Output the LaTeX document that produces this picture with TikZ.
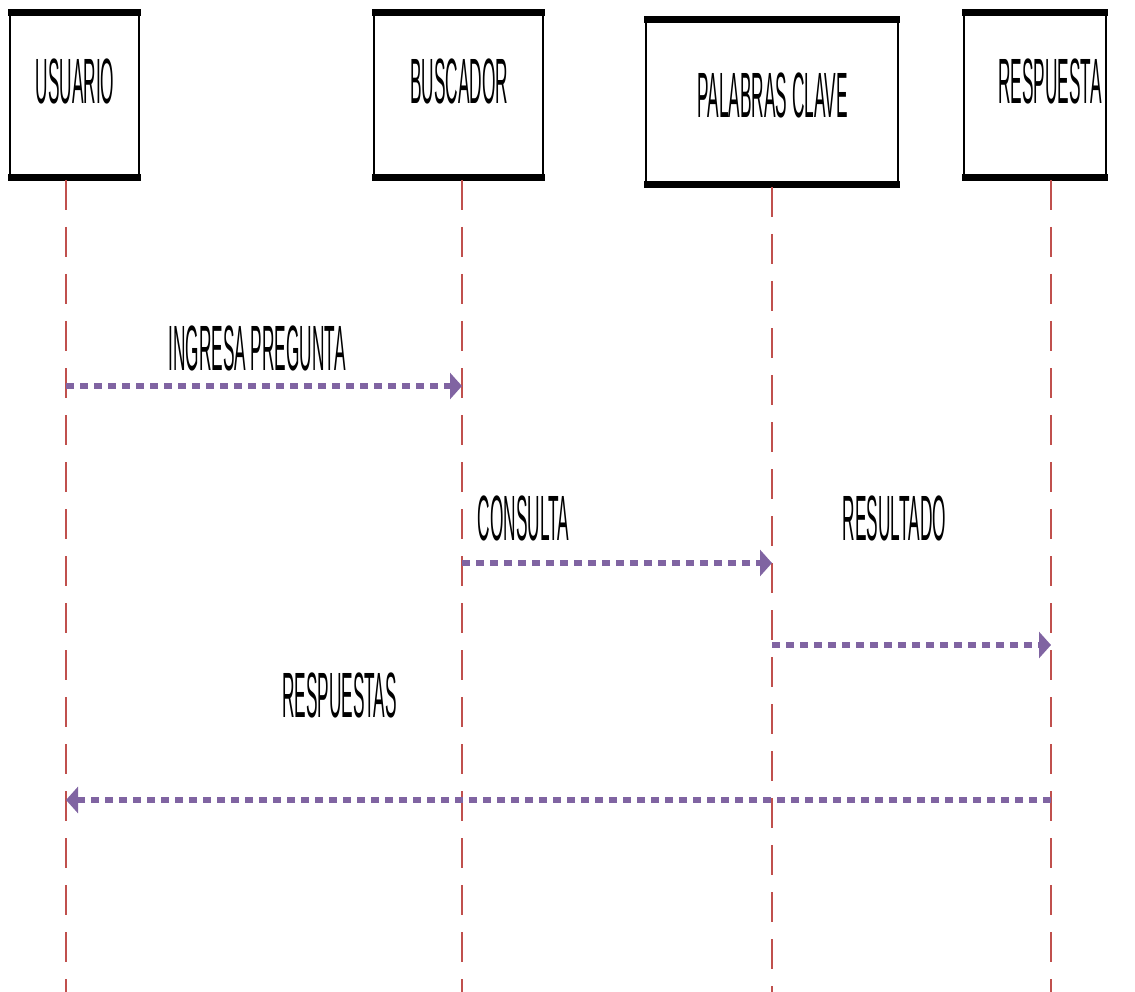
\documentclass[tikz,border=0pt]{standalone}
\usepackage{fontspec}
\setmainfont{Liberation Sans}
\usetikzlibrary{arrows.meta}
\definecolor{lifered}{HTML}{C0504D}
\definecolor{msgpurple}{HTML}{8064A2}
\newcommand{\sqz}[1]{\scalebox{0.27}[1]{\fontsize{64}{70}\selectfont #1}}
\tikzset{
  actorbox/.style={draw=black, line width=2pt, fill=white, inner sep=0pt},
  lbl/.style={inner sep=0pt, anchor=base, text=black},
  lifeline/.style={draw=lifered, line width=1.4pt, dash pattern=on 30pt off 17pt},
  msg/.style={draw=msgpurple, line width=5.5pt, dash pattern=on 8pt off 6pt,
    -{Triangle[length=12pt,width=26pt,fill=msgpurple]}, shorten >=0pt}
}
\begin{document}
\begin{tikzpicture}[x=1pt,y=-1pt]
\useasboundingbox (0,0) rectangle (1135,992);
% actor boxes
\node[actorbox, minimum width=129pt, minimum height=163pt] (usr) at (74.5,95) {};
\node[actorbox, minimum width=169pt, minimum height=163pt] (bus) at (458.5,95) {};
\node[actorbox, minimum width=252pt, minimum height=163pt] (pal) at (772,102) {};
\node[actorbox, minimum width=142pt, minimum height=163pt] (res) at (1035,95) {};
\foreach \b in {usr,bus,pal,res}{
  \draw[line width=7pt] ([xshift=-1pt]\b.north west) -- ([xshift=1pt]\b.north east);
  \draw[line width=7pt] ([xshift=-1pt]\b.south west) -- ([xshift=1pt]\b.south east);
}
% actor labels
\node[lbl] (tusr) at (75,104) {\sqz{USUARIO}};
\node[lbl] (tbus) at (459,104) {\sqz{BUSCADOR}};
\node[lbl] (tpal) at (772.5,118) {\sqz{PALABRAS CLAVE}};
\node[lbl] (tres) at (1050,104) {\sqz{RESPUESTA}};
% lifelines
\coordinate (usrTop) at (66,180);   \coordinate (usrBot) at (66,992);
\coordinate (busTop) at (462,180);  \coordinate (busBot) at (462,992);
\coordinate (palTop) at (772,187);  \coordinate (palBot) at (772,992);
\coordinate (resTop) at (1051,180); \coordinate (resBot) at (1051,992);
\draw[lifeline] (usrTop) -- (usrBot);
\draw[lifeline] (busTop) -- (busBot);
\draw[lifeline] (palTop) -- (palBot);
\draw[lifeline] (resTop) -- (resBot);
% message end points
\coordinate (m1a) at (66,386);   \coordinate (m1b) at (462,386);
\coordinate (m2a) at (462,563);  \coordinate (m2b) at (772,563);
\coordinate (m3a) at (772,645);  \coordinate (m3b) at (1051,645);
\coordinate (m4a) at (1051,800); \coordinate (m4b) at (66,800);
\draw[msg] (m1a) -- (m1b);
\draw[msg] (m2a) -- (m2b);
\draw[msg] (m3a) -- (m3b);
\draw[msg] (m4a) -- (m4b);
% message labels
\node[lbl] (l1) at (257,370) {\sqz{INGRESA PREGUNTA}};
\node[lbl] (l2) at (523.5,540) {\sqz{CONSULTA}};
\node[lbl] (l3) at (894.5,540) {\sqz{RESULTADO}};
\node[lbl] (l4) at (339.5,717) {\sqz{RESPUESTAS}};
\end{tikzpicture}
\end{document}
